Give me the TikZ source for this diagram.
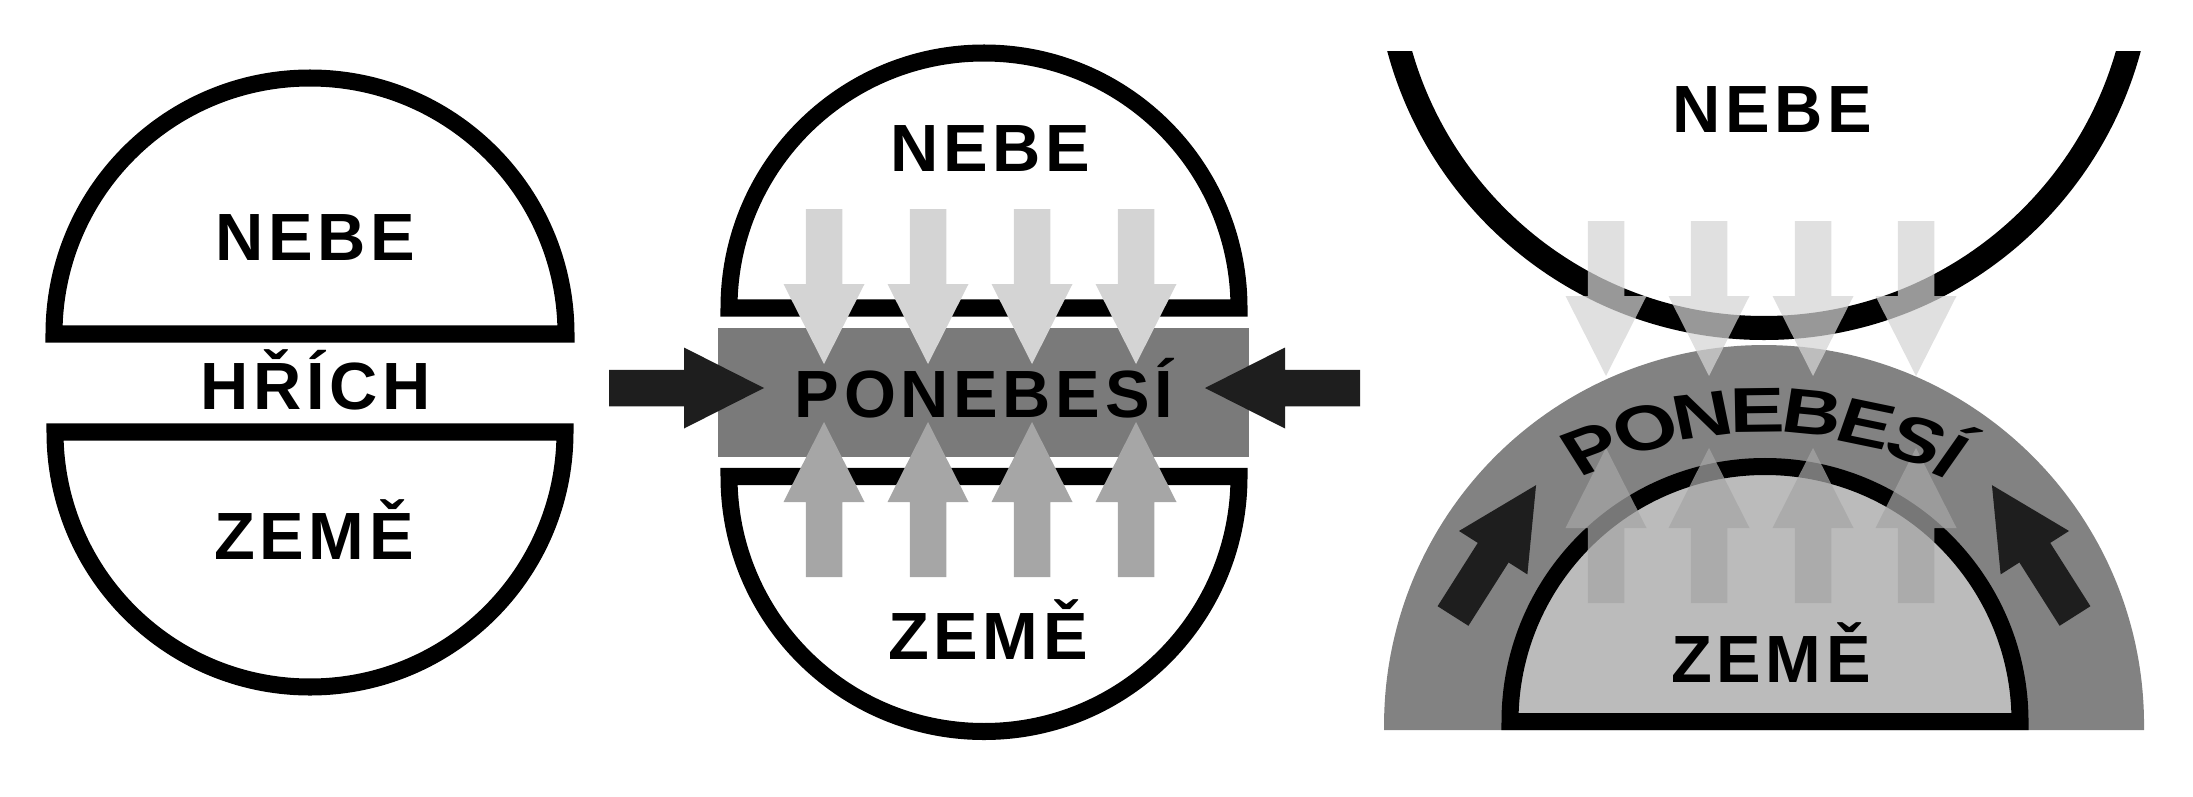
\documentclass[tikz,border=0pt]{standalone}
\usepackage{fontspec}
\newfontfamily\lblfont{Liberation Sans}[LetterSpace=7]
\usepackage{xcolor}
\definecolor{sky}{RGB}{212,212,212}
\definecolor{earth}{RGB}{166,166,166}
\definecolor{band}{RGB}{122,122,122}
\definecolor{dome}{RGB}{130,130,130}
\definecolor{soil}{RGB}{187,187,187}
\definecolor{push}{RGB}{30,30,30}

\begin{document}
\begin{tikzpicture}[
  x=0.01cm, y=0.01cm,
  rim/.style={line width=0.17cm},
  lbl/.style={font=\lblfont\bfseries\fontsize{19}{22}\selectfont, inner sep=0pt, anchor=base},
  bentlbl/.style={lbl, font=\lblfont\bfseries\fontsize{18}{22}\selectfont, xscale=1.3},
  blockarrow/.pic={\fill (0,-18.25) -- (75,-18.25) -- (75,-40.5) -- (155,0)
                   -- (75,40.5) -- (75,18.25) -- (0,18.25) -- cycle;},
]
\useasboundingbox (0,0) rectangle (2193,796);

% Left: heaven and earth split by sin
\draw[rim] (54,462) arc[start angle=180, end angle=0, radius=256] -- cycle;
\draw[rim] (55,364) arc[start angle=180, end angle=360, radius=255] -- cycle;
\node[lbl] (nebeA) at (315,536) {NEBE};
\node[lbl] (hrich) at (316,387) {HŘÍCH};
\node[lbl] (zemeA) at (314,236.5) {ZEMĚ};

% Middle: the band squeezed between
\draw[rim] (729,488) arc[start angle=180, end angle=0, radius=255] -- cycle;
\draw[rim] (729,319.5) arc[start angle=180, end angle=360, radius=255] -- cycle;
\fill[band] (718,339) rectangle (1249,468);
\foreach \x in {824,928,1032,1136} {
  \pic[rotate=-90, fill=sky] at (\x,587) {blockarrow};
  \pic[rotate=90, fill=earth] at (\x,219) {blockarrow};
}
\pic[fill=push] at (609,408) {blockarrow};
\pic[rotate=180, fill=push] at (1360,408) {blockarrow};
\node[lbl] (nebeB) at (990,625) {NEBE};
\node[lbl] (poneB) at (984,378.5) {PONEBESÍ};
\node[lbl] (zemeB) at (988,137) {ZEMĚ};

% Right: curved version
\fill[dome] (2144,66) arc[start angle=-0.75, end angle=180.75, radius=380] -- cycle;
\begin{scope}
  \clip (1300,0) rectangle (2193,745);
  \draw[line width=0.24cm] (1764,846) circle[radius=378];
\end{scope}
\filldraw[rim, fill=soil] (1510,74.5) arc[start angle=180, end angle=0, radius=255] -- cycle;
\begin{scope}[fill opacity=0.72]
  \foreach \x in {1606,1709,1813,1916} {
    \pic[rotate=-90, fill=sky] at (\x,575) {blockarrow};
    \pic[rotate=90, fill=earth] at (\x,193) {blockarrow};
  }
\end{scope}
\pic[rotate=57.6, fill=push] at (1453,180) {blockarrow};
\pic[rotate=122.4, fill=push] at (2075,180) {blockarrow};
\node[lbl] (nebeC) at (1772,663) {NEBE};
\node[lbl] (zemeC) at (1771,114) {ZEMĚ};
\coordinate (arcc) at (1764,-1);
\foreach \ch/\t [count=\i] in {P/115.9, O/107.6, N/99, E/90.9, B/82.9, E/74.9, S/67.1, Í/61.6}
  \node[bentlbl, rotate=\t-90] (ltr\i) at ([shift={(\t:365)}]arcc) {\ch};
\end{tikzpicture}
\end{document}
